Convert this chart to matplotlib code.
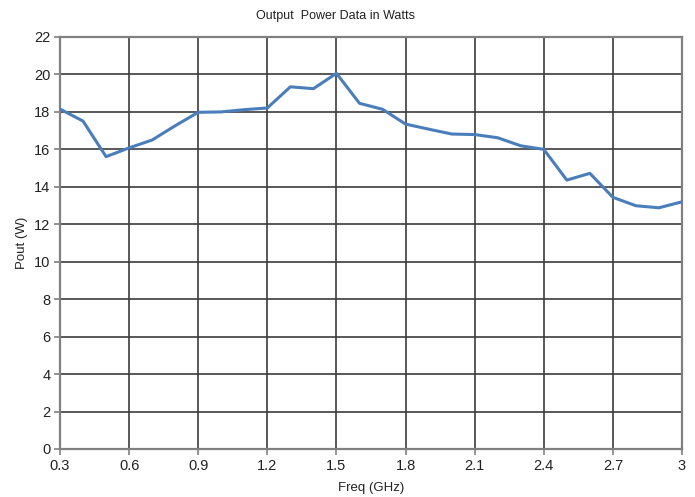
import matplotlib
matplotlib.use("Agg")
import matplotlib.pyplot as plt
import numpy as np

plt.rcParams['font.family'] = ['Liberation Sans', 'DejaVu Sans']

freq_ghz = [0.3, 0.4, 0.5, 0.6, 0.7, 0.8, 0.9, 1.0, 1.1, 1.2,
            1.3, 1.4, 1.5, 1.6, 1.7, 1.8, 1.9, 2.0, 2.1, 2.2,
            2.3, 2.4, 2.5, 2.6, 2.7, 2.8, 2.9, 3.0]
pout_w = [18.15, 17.51, 15.61, 16.08, 16.50, 17.26, 17.98, 18.00, 18.12, 18.21,
          19.34, 19.24, 20.06, 18.46, 18.14, 17.35, 17.08, 16.82, 16.79, 16.62,
          16.19, 16.00, 14.36, 14.72, 13.44, 12.99, 12.88, 13.20]

x_ticks = [0.3, 0.6, 0.9, 1.2, 1.5, 1.8, 2.1, 2.4, 2.7, 3.0]
x_tick_labels = ["0.3", "0.6", "0.9", "1.2", "1.5", "1.8", "2.1", "2.4", "2.7", "3"]
y_ticks = [0, 2, 4, 6, 8, 10, 12, 14, 16, 18, 20, 22]

fig = plt.figure(figsize=(6.95, 4.97), dpi=100)
ax = fig.add_axes([60 / 695, 48 / 497, 622 / 695, 412 / 497])

ax.plot(freq_ghz, pout_w, color='#4A7EBB', lw=2.2, solid_joinstyle='round', zorder=3)

ax.set_xlim(0.3, 3.0)
ax.set_ylim(0, 22)
ax.set_xticks(x_ticks)
ax.set_xticklabels(x_tick_labels)
ax.set_yticks(y_ticks)

ax.grid(True, color='#3c3c3c', lw=1.2)
ax.set_axisbelow(True)

for side in ['top', 'right', 'left', 'bottom']:
    ax.spines[side].set_color('#808080')
    ax.spines[side].set_linewidth(1.6)

ax.tick_params(axis='both', direction='out', length=4, width=1.2, color='#808080',
               labelsize=10.5, labelcolor='#222222', pad=3)

fig.text(335 / 695, 1 - 16 / 497, 'Output  Power Data in Watts', fontsize=9,
         color='#222222', ha='center', va='center')
ax.set_xlabel('Freq (GHz)', fontsize=9.5, color='#222222', labelpad=7)
ax.set_ylabel('Pout (W)', fontsize=9.5, color='#222222', labelpad=4)

fig.savefig('out.png', dpi=100, facecolor='white')
